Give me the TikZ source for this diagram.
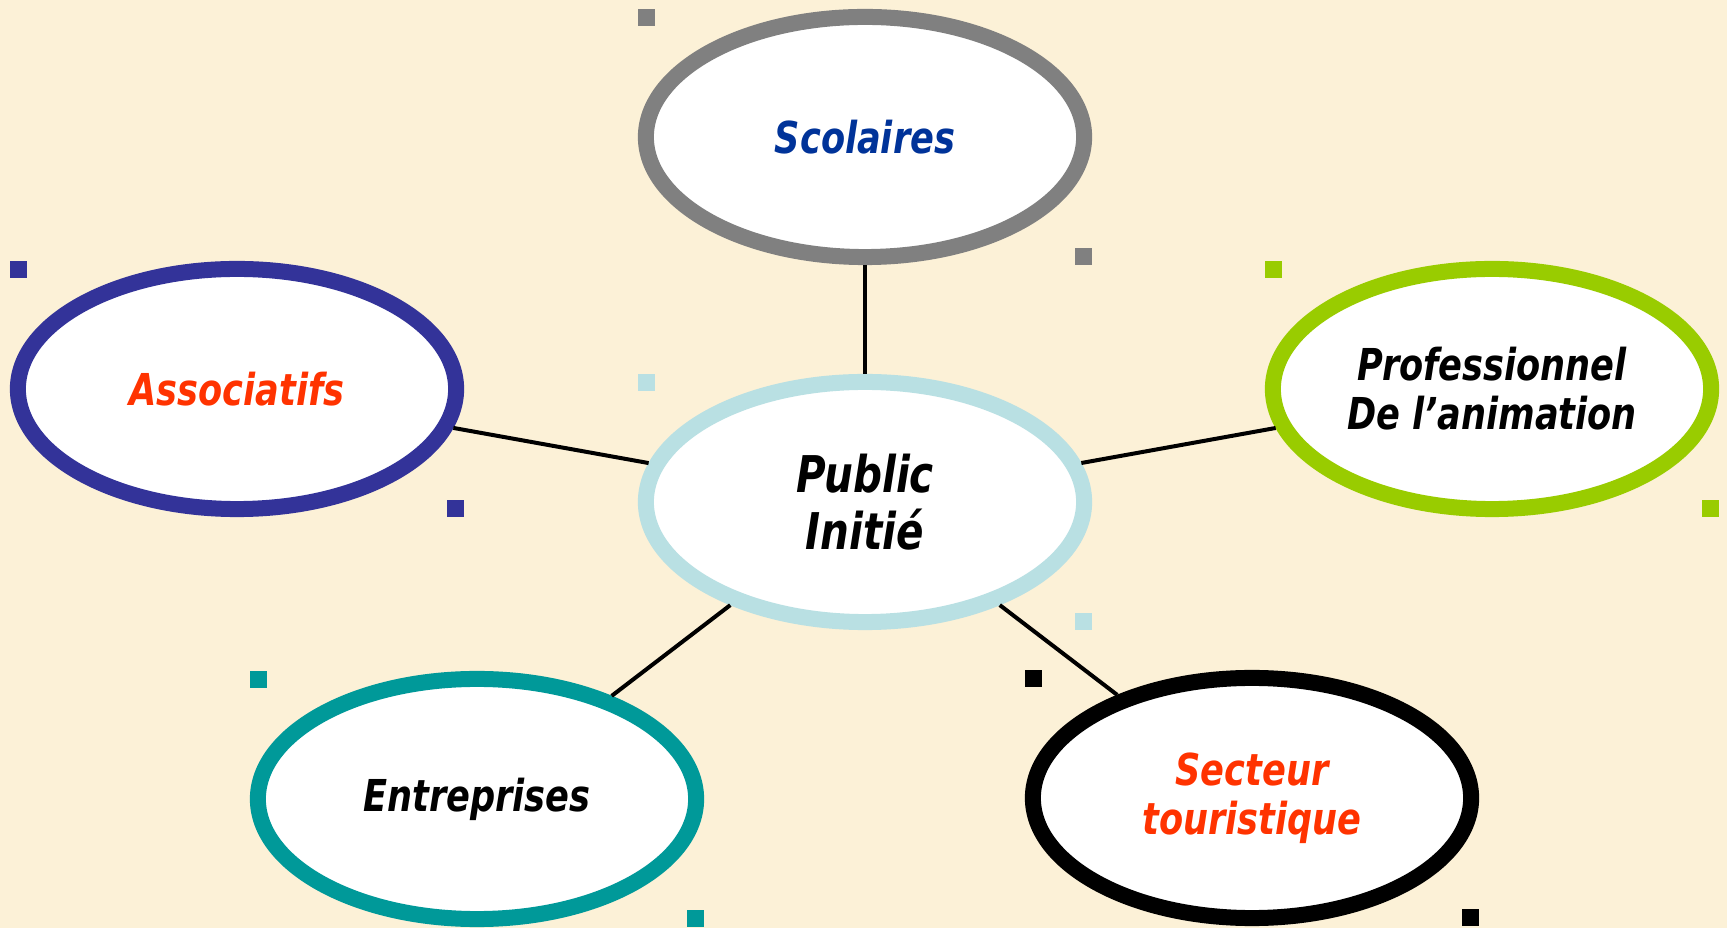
\documentclass[tikz,border=0pt]{standalone}
\usepackage{fontspec}
\setmainfont{DejaVu Sans}[FakeStretch=0.8]
\usepackage{tikz}
\usetikzlibrary{shapes.geometric}
\definecolor{mybg}{RGB}{252, 241, 215}
\definecolor{mygray}{RGB}{128, 128, 128}
\definecolor{mynavy}{RGB}{51, 51, 153}
\definecolor{mygreen}{RGB}{153, 204, 0}
\definecolor{mylightblue}{RGB}{185, 224, 227}
\definecolor{myteal}{RGB}{0, 153, 153}
\definecolor{myblue}{RGB}{0, 51, 153}
\definecolor{myorange}{RGB}{255, 51, 0}
\tikzset{bubble/.style = {ellipse, draw = #1, fill = white, line width = 0.16cm, minimum width = 4.38cm, minimum height = 2.4cm, inner sep = 0pt, align = center, font = \fontsize{12.5}{14}\selectfont\bfseries\itshape}}

\begin{document}
\begin{tikzpicture}[x = 0.01cm, y = -0.01cm]

\fill[mybg] (0, 0) rectangle (1727, 928);
\useasboundingbox (0, 0) rectangle (1727, 928); % keep the frame

\node[bubble = mylightblue, text = black, font = \fontsize{14.4}{16.2}\selectfont\bfseries\itshape] (pub) at (865, 502) {Public\\Initié};
\node[bubble = mygray, text = myblue] (sco) at (865, 137) {Scolaires};
\node[bubble = mynavy, text = myorange] (asso) at (237, 389) {Associatifs};
\node[bubble = mygreen, text = black] (prof) at (1492, 389) {Professionnel\\De l’animation};
\node[bubble = myteal, text = black] (entr) at (477, 799) {Entreprises};
\node[bubble = black, text = myorange] (sect) at (1252, 798) {Secteur\\touristique};

\draw[line width = 0.04cm] (pub) -- (sco);
\draw[line width = 0.04cm] (pub) -- (asso);
\draw[line width = 0.04cm] (pub) -- (prof);
\draw[line width = 0.04cm] (pub) -- (entr);
\draw[line width = 0.04cm] (pub) -- (sect);

% corner handles
\fill[mygray] (638, 9) rectangle +(17, 17);
\fill[mygray] (1075, 248) rectangle +(17, 17);
\fill[mylightblue] (638, 374) rectangle +(17, 17);
\fill[mylightblue] (1075, 613) rectangle +(17, 17);
\fill[mynavy] (10, 261) rectangle +(17, 17);
\fill[mynavy] (447, 500) rectangle +(17, 17);
\fill[mygreen] (1265, 261) rectangle +(17, 17);
\fill[mygreen] (1702, 500) rectangle +(17, 17);
\fill[myteal] (250, 671) rectangle +(17, 17);
\fill[myteal] (687, 910) rectangle +(17, 17);
\fill[black] (1025, 670) rectangle +(17, 17);
\fill[black] (1462, 909) rectangle +(17, 17);

\end{tikzpicture}
\end{document}
